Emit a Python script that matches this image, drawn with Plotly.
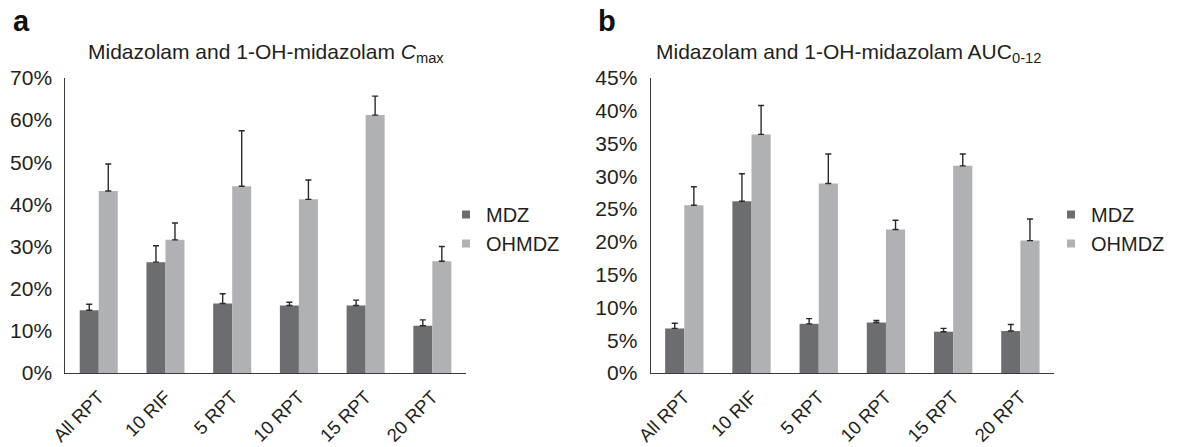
import plotly.graph_objects as go

categories = ["All RPT", "10 RIF", "5 RPT", "10 RPT", "15 RPT", "20 RPT"]

# Panel a: Cmax (% values)
cmax_mdz = [14.9, 26.3, 16.5, 16.0, 16.0, 11.2]
cmax_mdz_err = [1.4, 3.9, 2.3, 0.8, 1.3, 1.4]
cmax_oh = [43.2, 31.6, 44.3, 41.2, 61.2, 26.5]
cmax_oh_err = [6.4, 4.0, 13.2, 4.6, 4.5, 3.5]

# Panel b: AUC0-12 (% values)
auc_mdz = [6.8, 26.2, 7.5, 7.7, 6.3, 6.4]
auc_mdz_err = [0.8, 4.2, 0.8, 0.3, 0.5, 1.0]
auc_oh = [25.6, 36.4, 28.9, 21.9, 31.6, 20.2]
auc_oh_err = [2.8, 4.4, 4.5, 1.4, 1.8, 3.3]

ticks_a = [0, 10, 20, 30, 40, 50, 60, 70]
ticks_b = [0, 5, 10, 15, 20, 25, 30, 35, 40, 45]
ticklabels_a = [f"{v}%" for v in ticks_a]
ticklabels_b = [f"{v}%" for v in ticks_b]

DARK = "#6c6d71"
LIGHT = "#b0b1b4"
ERR = "#2a2a2a"
TXT = "#231f20"
FONT = "Liberation Sans, Arial, sans-serif"

W, H = 1178, 447


def px_x(p):
    return p / W


def px_y(p):
    return 1 - p / H


fig = go.Figure()


def add_panel(mdz, mdz_err, oh, oh_err, xa, ya, legend):
    err_kw = dict(type="data", symmetric=False, color=ERR, thickness=1.4, width=3)
    fig.add_trace(go.Bar(
        x=categories, y=mdz, name="MDZ", marker_color=DARK, marker_line_width=0,
        error_y=dict(array=mdz_err, arrayminus=[0] * len(mdz), **err_kw),
        xaxis=xa, yaxis=ya, showlegend=False))
    fig.add_trace(go.Bar(
        x=categories, y=oh, name="OHMDZ", marker_color=LIGHT, marker_line_width=0,
        error_y=dict(array=oh_err, arrayminus=[0] * len(oh), **err_kw),
        xaxis=xa, yaxis=ya, showlegend=False))
    # legend entries with small square markers
    fig.add_trace(go.Scatter(x=[None], y=[None], mode="markers", name="MDZ",
                             marker=dict(symbol="square", size=8, color=DARK),
                             xaxis=xa, yaxis=ya, legend=legend))
    fig.add_trace(go.Scatter(x=[None], y=[None], mode="markers", name="OHMDZ",
                             marker=dict(symbol="square", size=8, color=LIGHT),
                             xaxis=xa, yaxis=ya, legend=legend))


add_panel(cmax_mdz, cmax_mdz_err, cmax_oh, cmax_oh_err, "x", "y", "legend")
add_panel(auc_mdz, auc_mdz_err, auc_oh, auc_oh_err, "x2", "y2", "legend2")

y_top, y_bot = 78, 373
xa_dom = [px_x(65.4), px_x(465.7)]
xb_dom = [px_x(650.7), px_x(1054)]
y_dom = [px_y(y_bot), px_y(y_top)]

xaxis_common = dict(
    showline=True, linecolor="#3a3a3a", linewidth=1.2, showgrid=False,
    ticks="", tickangle=-45, tickfont=dict(size=18.5, color=TXT, family=FONT),
    ticklabelstandoff=5, zeroline=False, fixedrange=True, automargin=False)

yaxis_common = dict(
    showline=True, linecolor="#3a3a3a", linewidth=1.2, showgrid=False,
    ticks="", tickfont=dict(size=21, color=TXT, family=FONT),
    ticklabelstandoff=8, zeroline=False, fixedrange=True, automargin=False)

fig.update_layout(
    width=W, height=H,
    margin=dict(l=0, r=0, t=0, b=0, autoexpand=False),
    paper_bgcolor="white", plot_bgcolor="white",
    font=dict(family=FONT, color=TXT),
    barmode="group", bargap=0.43, bargroupgap=0,
    xaxis=dict(domain=xa_dom, anchor="y", **xaxis_common),
    yaxis=dict(domain=y_dom, anchor="x", range=[0, 70], tickmode="array",
               tickvals=ticks_a, ticktext=ticklabels_a, **yaxis_common),
    xaxis2=dict(domain=xb_dom, anchor="y2", **xaxis_common),
    yaxis2=dict(domain=y_dom, anchor="x2", range=[0, 45], tickmode="array",
                tickvals=ticks_b, ticktext=ticklabels_b, **yaxis_common),
    legend=dict(x=px_x(446), xanchor="left", y=px_y(195), yanchor="top",
                font=dict(size=20, color=TXT, family=FONT), bgcolor="rgba(0,0,0,0)",
                tracegroupgap=0, itemwidth=30),
    legend2=dict(x=px_x(1051), xanchor="left", y=px_y(195), yanchor="top",
                 font=dict(size=20, color=TXT, family=FONT), bgcolor="rgba(0,0,0,0)",
                 tracegroupgap=0, itemwidth=30),
    annotations=[
        dict(text="<b>a</b>", x=px_x(11), y=px_y(21), xref="paper", yref="paper",
             xanchor="left", yanchor="middle", showarrow=False,
             font=dict(size=29, color="#111", family=FONT)),
        dict(text="<b>b</b>", x=px_x(596), y=px_y(21), xref="paper", yref="paper",
             xanchor="left", yanchor="middle", showarrow=False,
             font=dict(size=29, color="#111", family=FONT)),
        dict(text="Midazolam and 1-OH-midazolam <i>C</i><sub>max</sub>",
             x=(xa_dom[0] + xa_dom[1]) / 2, y=px_y(53), xref="paper", yref="paper",
             xanchor="center", yanchor="middle", showarrow=False,
             font=dict(size=21, color=TXT, family=FONT)),
        dict(text="Midazolam and 1-OH-midazolam AUC<sub>0-12</sub>",
             x=(xb_dom[0] + xb_dom[1]) / 2 - 4 / W, y=px_y(53), xref="paper", yref="paper",
             xanchor="center", yanchor="middle", showarrow=False,
             font=dict(size=21, color=TXT, family=FONT)),
    ],
)

fig.write_html("out.html", config={"displayModeBar": False},
               post_script="document.body.style.margin='0';")
